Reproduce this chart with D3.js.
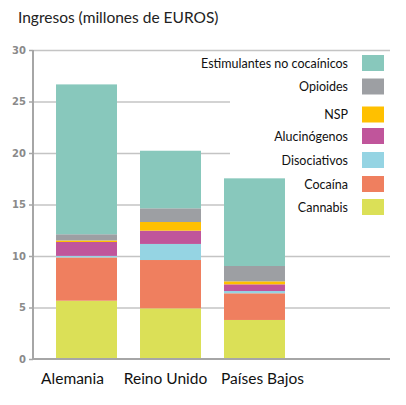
<!DOCTYPE html>
<html>
<head>
<meta charset="utf-8">
<script src="https://cdn.jsdelivr.net/npm/d3@7"></script>
<style>
  html, body { margin: 0; padding: 0; background: #fff; }
  svg { display: block; }
</style>
</head>
<body>
<svg id="chart" width="406" height="405"></svg>
<script>
const countries = ["Alemania", "Reino Unido", "Países Bajos"];
const seriesNames = ["Cannabis", "Cocaína", "Disociativos", "Alucinógenos", "NSP", "Opioides", "Estimulantes no cocaínicos"];
const cannabis     = [5.66, 4.92, 3.79];
const cocaina      = [4.20, 4.69, 2.59];
const disociativos = [0.15, 1.56, 0.22];
const alucinogenos = [1.35, 1.29, 0.65];
const nsp          = [0.15, 0.84, 0.29];
const opioides     = [0.60, 1.33, 1.49];
const estimulantes = [14.55, 5.59, 8.51];
const yTicks = [0, 5, 10, 15, 20, 25, 30];
const colors = ["#dbe057", "#ef7f5f", "#95d4e3", "#c0559b", "#ffc000", "#9d9fa3", "#88c8bc"];
const titleText = "Ingresos (millones de EUROS)";

const seriesValues = [cannabis, cocaina, disociativos, alucinogenos, nsp, opioides, estimulantes];
const table = countries.map((c, i) => {
  const row = { country: c };
  seriesNames.forEach((s, j) => row[s] = seriesValues[j][i]);
  return row;
});

const svg = d3.select("#chart");
const mLeft = 33, mRight = 390, mTop = 50, mBottom = 359;

const y = d3.scaleLinear().domain([0, 30]).range([mBottom, mTop]);
const x = d3.scaleBand().domain(countries).range([mLeft, 308]).paddingInner(0.274).paddingOuter(0.274);
const color = d3.scaleOrdinal().domain(seriesNames).range(colors);

// Title
svg.append("text")
  .attr("x", 18).attr("y", 23)
  .attr("font-family", "Lato, 'Open Sans', sans-serif")
  .attr("font-size", 15.5)
  .attr("fill", "#222")
  .text(titleText);

// Gridlines
const grid = svg.append("g").attr("transform", `translate(${mLeft},0)`)
  .call(d3.axisLeft(y).tickValues(yTicks.filter(t => t > 0)).tickSize(-(mRight - mLeft)).tickFormat(""));
grid.select(".domain").remove();
grid.selectAll("line").attr("stroke", "#c4c4c4").attr("stroke-width", 1.5);

// Legend background (covers gridlines)
svg.append("rect")
  .attr("x", 230).attr("y", 53).attr("width", 163).attr("height", 172)
  .attr("fill", "#fff");

// Bars
const stack = d3.stack().keys(seriesNames);
const layers = stack(table);
svg.append("g").selectAll("g")
  .data(layers).join("g")
  .attr("fill", d => color(d.key))
  .selectAll("rect")
  .data(d => d).join("rect")
  .attr("x", d => x(d.data.country))
  .attr("width", x.bandwidth())
  .attr("y", d => y(d[1]))
  .attr("height", d => y(d[0]) - y(d[1]));

// Y axis
const yAxis = svg.append("g").attr("transform", `translate(${mLeft},0)`)
  .call(d3.axisLeft(y).tickValues(yTicks).tickSize(4).tickPadding(3));
yAxis.select(".domain").attr("stroke", "#a6a6a6").attr("stroke-width", 2).attr("d", `M0,${mTop}V${mBottom}`);
yAxis.selectAll("line").attr("stroke", "#a6a6a6").attr("stroke-width", 1.5);
yAxis.selectAll("text")
  .attr("font-family", "'DejaVu Sans', Verdana, sans-serif")
  .attr("font-size", 10)
  .attr("font-weight", "bold")
  .attr("fill", "#8a8a8a");

// Baseline
svg.append("line")
  .attr("x1", mLeft).attr("x2", mRight)
  .attr("y1", y(0)).attr("y2", y(0))
  .attr("stroke", "#a6a6a6").attr("stroke-width", 2);

// X labels
const xAxis = svg.append("g").attr("transform", `translate(0,${mBottom})`)
  .call(d3.axisBottom(x).tickSize(0).tickPadding(14));
xAxis.select(".domain").remove();
xAxis.selectAll("text")
  .attr("font-family", "Lato, 'Open Sans', sans-serif")
  .attr("font-size", 15.5)
  .attr("fill", "#111")
  .attr("dx", (d, i) => [-14, -5, 8][i]);

// Legend (top to bottom: reverse of stack order)
const legendItems = seriesNames.slice().reverse();
const legendY = d3.scaleOrdinal().domain(legendItems).range([63, 86.5, 114.5, 136, 160, 184, 207]);
const lg = svg.append("g").selectAll("g").data(legendItems).join("g")
  .attr("transform", d => `translate(0,${legendY(d)})`);
lg.append("rect")
  .attr("x", 362).attr("y", -8).attr("width", 22).attr("height", 16)
  .attr("fill", d => color(d));
lg.append("text")
  .attr("x", 348).attr("y", 4.5)
  .attr("text-anchor", "end")
  .attr("font-family", "Lato, 'Open Sans', sans-serif")
  .attr("font-size", 12.5)
  .attr("fill", "#111")
  .text(d => d);
</script>
</body>
</html>
